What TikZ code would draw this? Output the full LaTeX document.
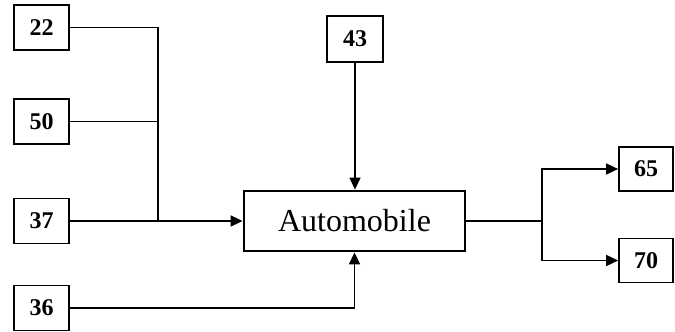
\documentclass[tikz,border=0pt]{standalone}
\usepackage{fontspec}
\setmainfont{Liberation Serif}
\usetikzlibrary{arrows.meta}
\begin{document}
\begin{tikzpicture}[x=1pt,y=-1pt,
  numbox/.style={draw,line width=1.7pt,minimum width=55pt,minimum height=45pt,inner sep=0pt,font=\fontsize{24}{26}\selectfont\bfseries},
  mainbox/.style={draw,line width=2.8pt,minimum width=221pt,minimum height=60pt,inner sep=0pt,font=\fontsize{32}{36}\selectfont},
  conn/.style={line width=1.6pt},
  arr/.style={conn,-{Triangle[length=12pt,width=11pt]}}]
\useasboundingbox (0,0) rectangle (675,332);
\node[numbox] (b22) at (41.5,27.5) {22};
\node[numbox] (b50) at (41.5,121.5) {50};
\node[numbox] (b37) at (41.5,221) {37};
\node[numbox] (b36) at (41.5,308) {36};
\node[numbox,minimum width=56pt,minimum height=46pt] (b43) at (355,39) {43};
\node[mainbox] (auto) at (354.5,221) {Automobile};
\node[numbox,minimum width=54pt,minimum height=44pt] (b65) at (646,169) {65};
\node[numbox,minimum width=54pt,minimum height=44pt] (b70) at (646,260.5) {70};
\coordinate (j) at (158,221);
\coordinate (r) at (542,221);
\draw[conn] (b22.east) -- (b22.east -| j) -- (j);
\draw[conn] (b50.east) -- (b50.east -| j);
\draw[arr] (b37.east) -- (auto.west);
\draw[arr] (b43.south) -- (auto.north -| b43.south);
\draw[arr] (b36.east) -| (auto.south);
\draw[conn] (auto.east) -- (r);
\draw[arr] (r) |- (b65.west);
\draw[arr] (r) |- (b70.west);
\end{tikzpicture}
\end{document}
